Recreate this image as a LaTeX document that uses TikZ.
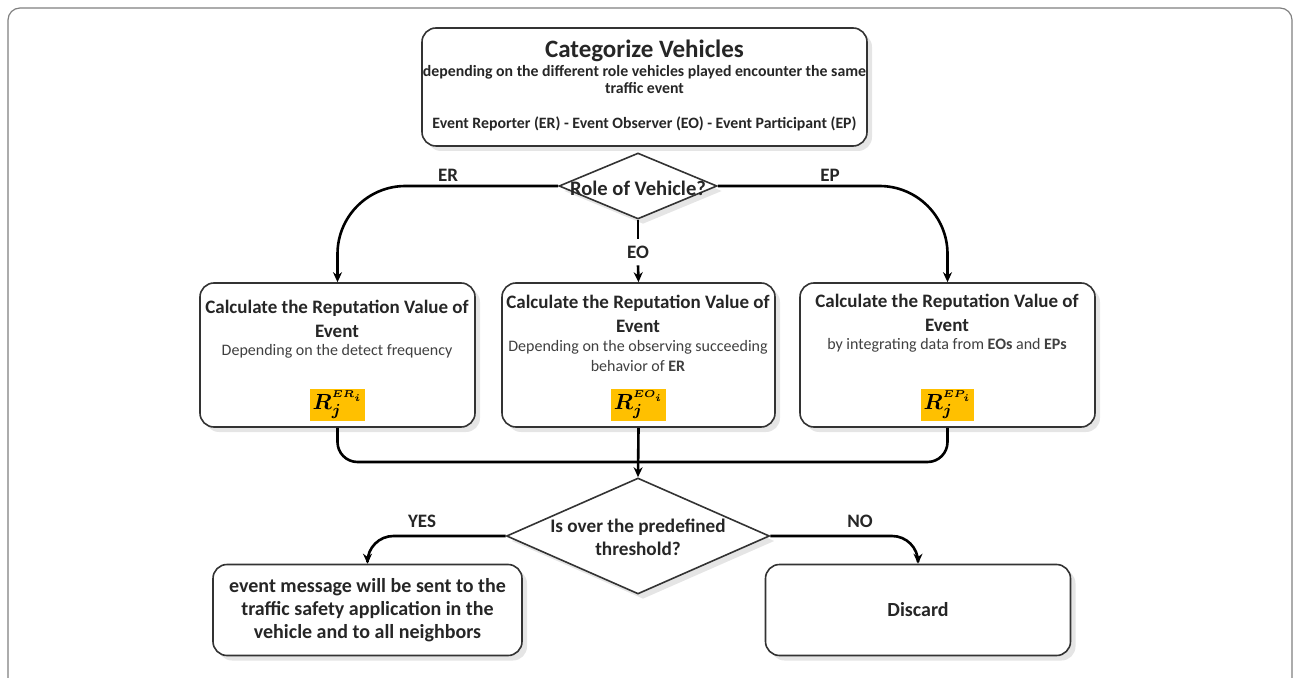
\documentclass[tikz,border=0pt]{standalone}
\usepackage{fontspec}
\setmainfont{Carlito}
\usepackage{amsmath}
\usetikzlibrary{shapes.geometric,shadows,arrows.meta,positioning}

\definecolor{txtdark}{RGB}{38,38,38}
\definecolor{txtsub}{RGB}{64,64,64}
\definecolor{rgold}{RGB}{255,192,0}
\definecolor{framegray}{RGB}{128,128,128}

\tikzset{
  box/.style={draw=black!80, line width=0.8pt, rounded corners=7pt, fill=white,
    drop shadow={shadow xshift=2.5pt, shadow yshift=-2.5pt, fill=black!20}},
  decision/.style={diamond, draw=black!80, line width=0.8pt, fill=white, inner sep=0pt,
    drop shadow={shadow xshift=2.5pt, shadow yshift=-2.5pt, fill=black!20}},
  conn/.style={line width=1.3pt, -{Stealth[length=5pt,width=4.5pt]}},
  joint/.style={line width=1.3pt},
  lbl/.style={font=\fontsize{9.5}{10}\selectfont\bfseries, text=txtdark},
  rval/.style={fill=rgold, inner sep=1.2pt, font=\fontsize{11}{12}\selectfont},
  title/.style={font=\fontsize{9.5}{12}\selectfont\bfseries, text=txtdark, align=center, inner sep=0pt},
  sub/.style={font=\fontsize{8}{10}\selectfont, text=txtsub, align=center, inner sep=0pt}
}

\begin{document}
\begin{tikzpicture}[x=0.5pt,y=-0.5pt]
\useasboundingbox (0,0) rectangle (1294,678);

% frame
\draw[framegray, line width=0.6pt, rounded corners=6pt] (8,680) -- (8,8) -- (1292,8) -- (1292,680);

% Categorize box
\node[box, minimum width=222.5pt, minimum height=59pt] (cat) at (644.5,87) {};
\node[title, font=\fontsize{12.5}{14}\selectfont\bfseries] (cattitle) at (644.5,51) {Categorize Vehicles};
\node[title, font=\fontsize{7.9}{8.5}\selectfont\bfseries] (catsub) at (644.5,80) {depending on the different role vehicles played encounter the same\\ traffic event};
\node[title, font=\fontsize{7.9}{8.5}\selectfont\bfseries] (catroles) at (644.5,124) {Event Reporter (ER) - Event Observer (EO) - Event Participant (EP)};

% Role decision
\node[decision, minimum width=79pt, minimum height=33pt] (role) at (638,186) {};
\node[font=\fontsize{10.3}{11}\selectfont\bfseries, text=txtdark, inner sep=0pt] (roletxt) at (638,188) {Role of Vehicle?};

% Reputation boxes
\node[box, minimum width=137.5pt, minimum height=72pt] (calcER) at (337.5,355) {};
\node[box, minimum width=136.5pt, minimum height=72pt] (calcEO) at (638.5,355) {};
\node[box, minimum width=147.5pt, minimum height=72pt] (calcEP) at (947.5,355) {};

\node[title] (tER) at (337,319) {Calculate the Reputation Value of\\ Event};
\node[sub] (sER) at (337,351) {Depending on the detect frequency};
\node[title] (tEO) at (638,314) {Calculate the Reputation Value of\\ Event};
\node[sub] (sEO) at (638,356) {Depending on the observing succeeding\\ behavior of \textbf{ER}};
\node[title] (tEP) at (947,313) {Calculate the Reputation Value of\\ Event};
\node[sub] (sEP) at (947,345) {by integrating data from \textbf{EOs} and \textbf{EPs}};

\node[rval, anchor=south] (rER) at ([yshift=3pt]calcER.south) {$\boldsymbol{R_j^{\scriptscriptstyle ER_i}}$};
\node[rval, anchor=south] (rEO) at ([yshift=3pt]calcEO.south) {$\boldsymbol{R_j^{\scriptscriptstyle EO_i}}$};
\node[rval, anchor=south] (rEP) at ([yshift=3pt]calcEP.south) {$\boldsymbol{R_j^{\scriptscriptstyle EP_i}}$};

% threshold decision
\node[decision, minimum width=131.5pt, minimum height=58pt] (thr) at (638,536) {};
\node[font=\fontsize{9.6}{11.5}\selectfont\bfseries, text=txtdark, align=center, inner sep=0pt] (thrtxt) at (638,537) {Is over the predefined\\ threshold?};

% result boxes
\node[box, minimum width=154.5pt, minimum height=45.5pt, font=\fontsize{10}{11.5}\selectfont\bfseries, text=txtdark, align=center] (send) at (367.5,610)
  {event message will be sent to the\\ traffic safety application in the\\ vehicle and to all neighbors};
\node[box, minimum width=152.5pt, minimum height=45.5pt, font=\fontsize{10}{11.5}\selectfont\bfseries, text=txtdark] (discard) at (918,610) {Discard};

% connectors
\coordinate (merge) at (638,462);
\draw[conn, rounded corners=34pt] (role.west) -| (calcER.north);
\draw[conn, rounded corners=34pt] (role.east) -| (calcEP.north);
\node[lbl] (eo) at (638,252) {EO};
\draw[joint] (role.south) -- (eo.north);
\draw[conn] (eo.south) -- (calcEO.north);
\node[lbl] (er) at (448,175) {ER};
\node[lbl] (ep) at (830,175) {EP};

\draw[joint, rounded corners=10pt] (calcER.south) |- (merge);
\draw[joint, rounded corners=10pt] (calcEP.south) |- (merge);
\draw[conn] (calcEO.south) -- (thr.north);

\draw[conn, rounded corners=13pt] (thr.west) -| (send.north);
\draw[conn, rounded corners=13pt] (thr.east) -| (discard.north);
\node[lbl] (yes) at (422,521) {YES};
\node[lbl] (no) at (860,521) {NO};

\end{tikzpicture}
\end{document}
